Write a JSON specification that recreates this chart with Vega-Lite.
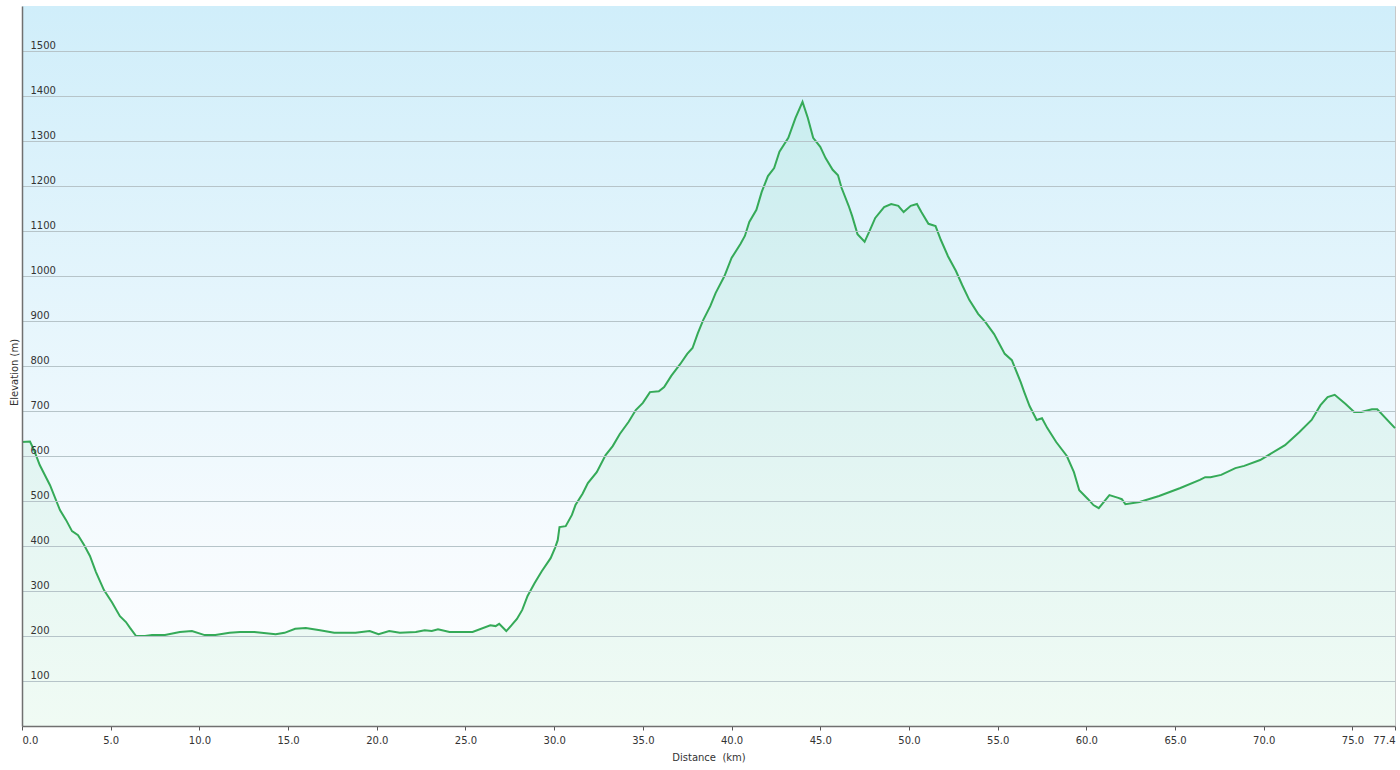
{
  "$schema": "https://vega.github.io/schema/vega-lite/v6.json",
  "description": "Elevation profile along a 77.4 km route.",
  "width": 1373,
  "height": 720,
  "autosize": {"type": "none"},
  "padding": {"left": 22, "top": 6, "right": 5, "bottom": 44},
  "background": "#ffffff",
  "config": {
    "view": {"stroke": "#c8c8c8", "strokeWidth": 1},
    "font": "DejaVu Sans"
  },
  "layer": [
    {
      "data": {"values": [{"x0": 0, "x1": 77.4, "y0": 0, "y1": 1600}]},
      "mark": {
        "type": "rect",
        "color": {
          "gradient": "linear",
          "x1": 0, "y1": 0, "x2": 0, "y2": 1,
          "stops": [
            {"offset": 0, "color": "#d0eefa"},
            {"offset": 0.75, "color": "#f6fbfe"},
            {"offset": 1, "color": "#ffffff"}
          ]
        }
      },
      "encoding": {
        "x": {"field": "x0", "type": "quantitative"},
        "x2": {"field": "x1"},
        "y": {"field": "y0", "type": "quantitative"},
        "y2": {"field": "y1"}
      }
    },
    {
      "data": {"name": "profile"},
      "mark": {"type": "area", "color": "#3ccf6c", "opacity": 0.075},
      "encoding": {
        "x": {"field": "d", "type": "quantitative"},
        "y": {"field": "e", "type": "quantitative"}
      }
    },
    {
      "data": {"name": "profile"},
      "mark": {"type": "line", "color": "#35aa58", "strokeWidth": 2},
      "encoding": {
        "x": {"field": "d", "type": "quantitative"},
        "y": {"field": "e", "type": "quantitative"}
      }
    }
  ],
  "encoding": {
    "x": {
      "type": "quantitative",
      "scale": {"domain": [0, 77.4], "nice": false, "zero": false},
      "axis": {
        "title": "Distance\u00a0 (km)",
        "values": [0, 5, 10, 15, 20, 25, 30, 35, 40, 45, 50, 55, 60, 65, 70, 75, 77.4],
        "format": ".1f",
        "grid": false,
        "zindex": 1,
        "domainColor": "#707070",
        "domainWidth": 1.5,
        "tickColor": "#555555",
        "tickSize": 4,
        "labelFlush": true,
        "labelPadding": 5,
        "labelFontSize": 10,
        "labelColor": "#333333",
        "titleFontSize": 10,
        "titleFontWeight": "normal",
        "titleColor": "#333333",
        "titlePadding": 7
      }
    },
    "y": {
      "type": "quantitative",
      "scale": {"domain": [0, 1600], "nice": false},
      "axis": {
        "title": "Elevation (m)",
        "values": [100, 200, 300, 400, 500, 600, 700, 800, 900, 1000, 1100, 1200, 1300, 1400, 1500],
        "format": "d",
        "grid": true,
        "gridColor": "#b6c4c9",
        "gridWidth": 1,
        "zindex": 1,
        "ticks": false,
        "tickSize": 0,
        "domainColor": "#707070",
        "domainWidth": 1.5,
        "labelAlign": "left",
        "labelPadding": -8,
        "labelBaseline": "alphabetic",
        "labelOffset": -3,
        "labelFontSize": 10,
        "labelColor": "#333333",
        "titleFontSize": 10,
        "titleFontWeight": "normal",
        "titleColor": "#333333",
        "titleBaseline": "middle",
        "titleX": -8,
        "titleY": 366
      }
    }
  },
  "datasets": {
    "profile": [
      {"d": 0.0, "e": 631}, {"d": 0.45, "e": 632}, {"d": 0.68, "e": 613}, {"d": 1.0, "e": 580},
      {"d": 1.58, "e": 535}, {"d": 2.14, "e": 480}, {"d": 2.48, "e": 458}, {"d": 2.82, "e": 433},
      {"d": 3.16, "e": 424}, {"d": 3.5, "e": 402}, {"d": 3.83, "e": 378}, {"d": 4.17, "e": 342},
      {"d": 4.62, "e": 302}, {"d": 5.07, "e": 275}, {"d": 5.52, "e": 244}, {"d": 5.86, "e": 231},
      {"d": 6.09, "e": 218}, {"d": 6.43, "e": 200}, {"d": 6.93, "e": 200}, {"d": 7.33, "e": 202},
      {"d": 8.06, "e": 202}, {"d": 8.9, "e": 209}, {"d": 9.58, "e": 211}, {"d": 10.3, "e": 202},
      {"d": 10.9, "e": 202}, {"d": 11.7, "e": 207}, {"d": 12.3, "e": 209}, {"d": 13.1, "e": 209},
      {"d": 14.3, "e": 204}, {"d": 14.8, "e": 207}, {"d": 15.4, "e": 216}, {"d": 16.0, "e": 218},
      {"d": 16.8, "e": 213}, {"d": 17.6, "e": 207}, {"d": 18.8, "e": 207}, {"d": 19.6, "e": 211},
      {"d": 20.1, "e": 204}, {"d": 20.7, "e": 211}, {"d": 21.3, "e": 207}, {"d": 22.2, "e": 209},
      {"d": 22.7, "e": 213}, {"d": 23.1, "e": 211}, {"d": 23.45, "e": 215}, {"d": 24.1, "e": 209},
      {"d": 25.4, "e": 209}, {"d": 26.4, "e": 224}, {"d": 26.7, "e": 222}, {"d": 26.9, "e": 227},
      {"d": 27.3, "e": 211}, {"d": 27.6, "e": 224}, {"d": 27.9, "e": 238}, {"d": 28.2, "e": 258},
      {"d": 28.5, "e": 289}, {"d": 28.9, "e": 318}, {"d": 29.3, "e": 344}, {"d": 29.8, "e": 373},
      {"d": 30.05, "e": 396}, {"d": 30.2, "e": 413}, {"d": 30.3, "e": 442}, {"d": 30.65, "e": 444},
      {"d": 31.0, "e": 469}, {"d": 31.2, "e": 491}, {"d": 31.6, "e": 516}, {"d": 31.9, "e": 540},
      {"d": 32.4, "e": 564}, {"d": 32.9, "e": 602}, {"d": 33.3, "e": 622}, {"d": 33.7, "e": 649},
      {"d": 34.2, "e": 676}, {"d": 34.6, "e": 702}, {"d": 35.0, "e": 718}, {"d": 35.4, "e": 742},
      {"d": 35.9, "e": 744}, {"d": 36.2, "e": 753}, {"d": 36.6, "e": 778}, {"d": 37.1, "e": 804},
      {"d": 37.5, "e": 827}, {"d": 37.8, "e": 840}, {"d": 38.1, "e": 873}, {"d": 38.4, "e": 902},
      {"d": 38.8, "e": 933}, {"d": 39.1, "e": 962}, {"d": 39.6, "e": 1000}, {"d": 40.0, "e": 1040},
      {"d": 40.5, "e": 1071}, {"d": 40.75, "e": 1089}, {"d": 41.0, "e": 1120}, {"d": 41.4, "e": 1147},
      {"d": 41.7, "e": 1187}, {"d": 42.05, "e": 1222}, {"d": 42.4, "e": 1240}, {"d": 42.7, "e": 1276},
      {"d": 43.2, "e": 1307}, {"d": 43.6, "e": 1351}, {"d": 44.0, "e": 1387}, {"d": 44.3, "e": 1351},
      {"d": 44.6, "e": 1307}, {"d": 45.0, "e": 1287}, {"d": 45.3, "e": 1262}, {"d": 45.7, "e": 1236},
      {"d": 46.0, "e": 1224}, {"d": 46.2, "e": 1196}, {"d": 46.6, "e": 1156}, {"d": 46.8, "e": 1133},
      {"d": 47.1, "e": 1093}, {"d": 47.5, "e": 1076}, {"d": 47.8, "e": 1102}, {"d": 48.1, "e": 1129},
      {"d": 48.6, "e": 1153}, {"d": 49.0, "e": 1160}, {"d": 49.4, "e": 1156}, {"d": 49.7, "e": 1142},
      {"d": 50.1, "e": 1156}, {"d": 50.45, "e": 1160}, {"d": 50.7, "e": 1142}, {"d": 51.1, "e": 1116},
      {"d": 51.5, "e": 1111}, {"d": 51.8, "e": 1080}, {"d": 52.2, "e": 1044}, {"d": 52.65, "e": 1011},
      {"d": 53.0, "e": 980}, {"d": 53.4, "e": 947}, {"d": 53.9, "e": 916}, {"d": 54.3, "e": 898},
      {"d": 54.8, "e": 871}, {"d": 55.1, "e": 849}, {"d": 55.4, "e": 827}, {"d": 55.8, "e": 813},
      {"d": 56.3, "e": 764}, {"d": 56.5, "e": 742}, {"d": 56.8, "e": 711}, {"d": 57.2, "e": 680},
      {"d": 57.5, "e": 684}, {"d": 57.8, "e": 662}, {"d": 58.3, "e": 631}, {"d": 58.9, "e": 600},
      {"d": 59.3, "e": 564}, {"d": 59.6, "e": 524}, {"d": 60.1, "e": 504}, {"d": 60.4, "e": 491},
      {"d": 60.7, "e": 484}, {"d": 61.3, "e": 513}, {"d": 61.8, "e": 507}, {"d": 62.0, "e": 504},
      {"d": 62.2, "e": 493}, {"d": 63.0, "e": 498}, {"d": 64.1, "e": 511}, {"d": 65.3, "e": 529},
      {"d": 66.4, "e": 547}, {"d": 66.7, "e": 553}, {"d": 67.0, "e": 553}, {"d": 67.6, "e": 558},
      {"d": 68.4, "e": 573}, {"d": 68.9, "e": 578}, {"d": 69.8, "e": 591}, {"d": 71.2, "e": 624},
      {"d": 72.0, "e": 653}, {"d": 72.7, "e": 680}, {"d": 73.2, "e": 713}, {"d": 73.6, "e": 731},
      {"d": 74.0, "e": 736}, {"d": 74.6, "e": 716}, {"d": 75.1, "e": 698}, {"d": 75.5, "e": 698},
      {"d": 76.1, "e": 704}, {"d": 76.4, "e": 704}, {"d": 77.4, "e": 662}
    ]
  }
}
